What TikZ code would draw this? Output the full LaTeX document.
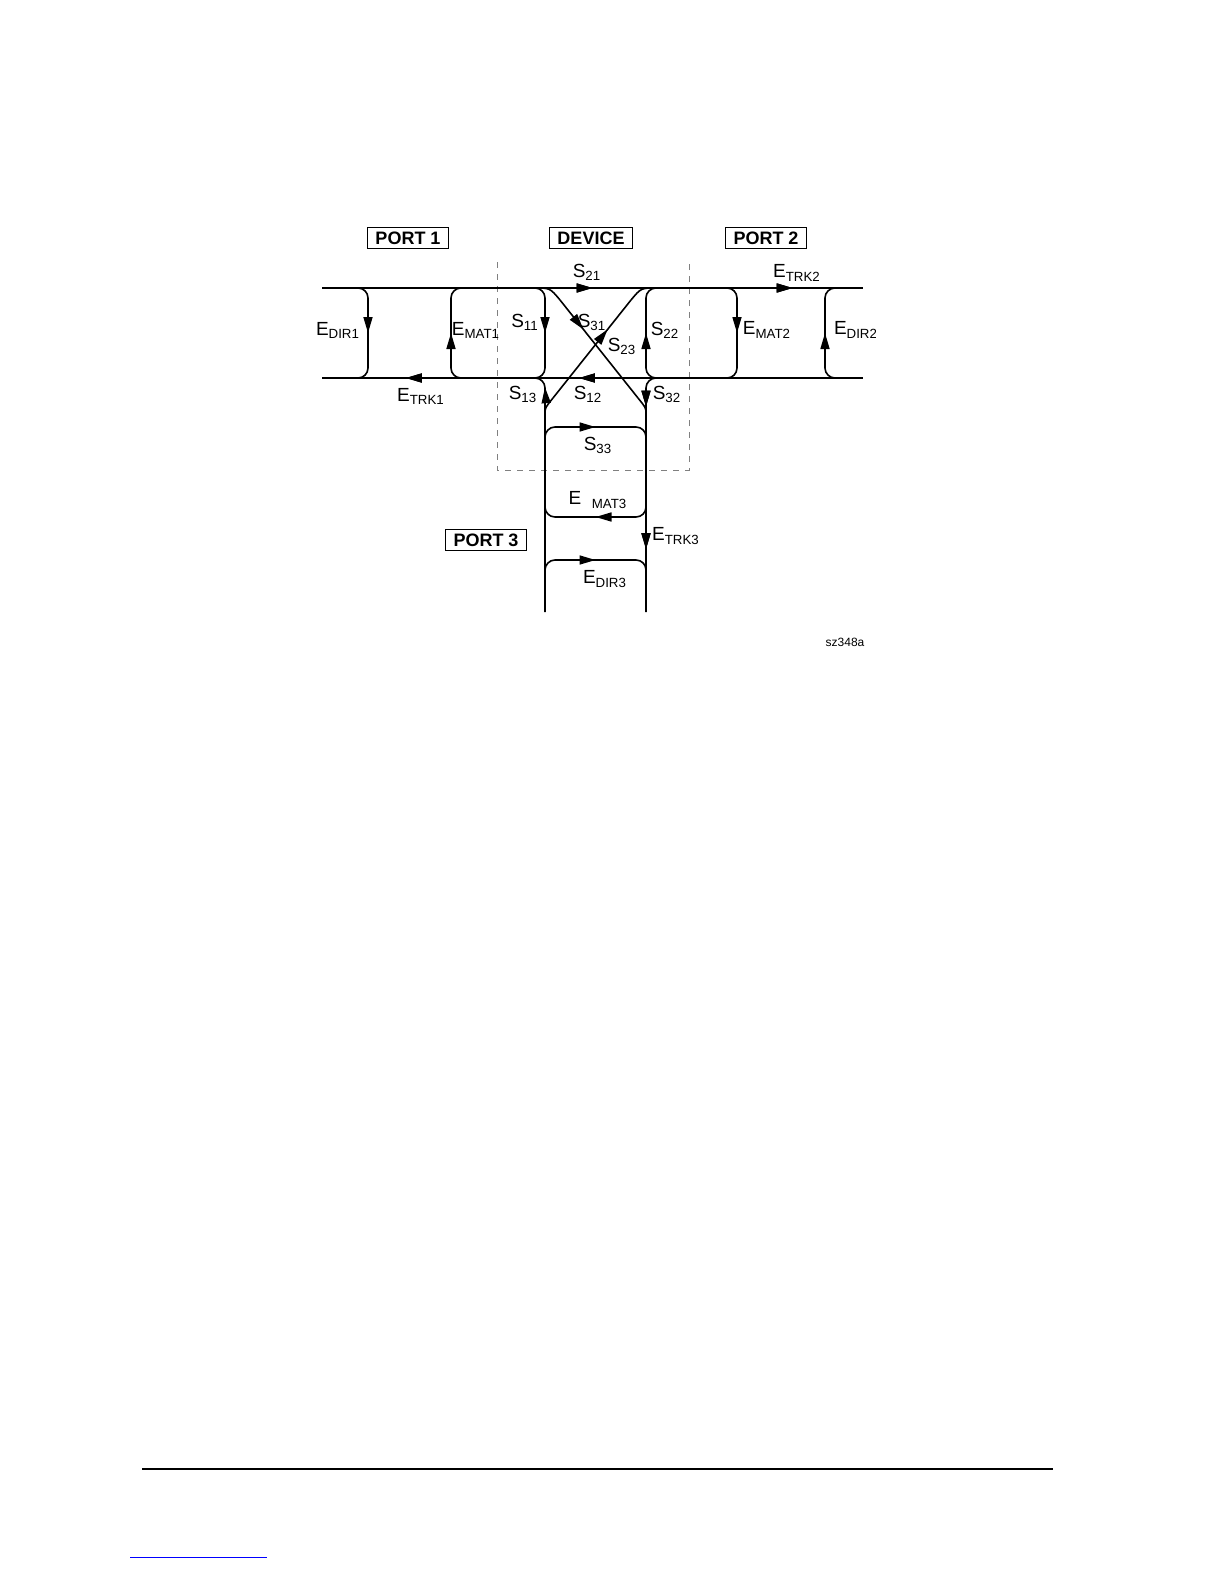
\documentclass[tikz,border=0pt]{standalone}
\usepackage{fontspec}
\setmainfont{Liberation Sans}
\usetikzlibrary{arrows.meta,decorations.markings}
\tikzset{tipa/.tip={Triangle[length=8pt,width=4.5pt]}}
\tikzstyle{midtip}=[postaction={decorate},decoration={markings,mark=at position #1 with {\arrow{tipa}}}]
\tikzstyle{backtip}=[postaction={decorate},decoration={markings,mark=at position #1 with {\arrowreversed{tipa}}}]
\tikzstyle{portbox}=[draw,thick,font=\bfseries\fontsize{9}{10}\selectfont,inner xsep=4pt,inner ysep=2pt]
\tikzstyle{lbl}=[font=\fontsize{9.5}{10}\selectfont,inner sep=0]
\tikzstyle{sig}=[thick,rounded corners=5pt]
\begin{document}
\begin{tikzpicture}[x=0.5pt,y=-0.5pt]
\useasboundingbox (0,0) rectangle (1224,1584);

% port and device boxes
\node[portbox] (port1) at (408,238) {PORT 1};
\node[portbox] (device) at (591,238) {DEVICE};
\node[portbox] (port2) at (766,238) {PORT 2};
\node[portbox] (port3) at (486,540) {PORT 3};
\draw[gray,dashed] (497,262) -- (497,470) -- (689,470) -- (689,262);

% main lines
\draw[thick,midtip=0.5,midtip=0.87] (322,288) -- (863,288);
\draw[thick,backtip=0.155,backtip=0.475] (322,378) -- (863,378);

% vertical loops
\foreach \x/\s/\ya/\yb in {368/-12/288/378, 451/12/378/288, 545/-12/288/378,
                           646/12/378/288, 737/-12/288/378, 825/12/378/288}
  \draw[sig,midtip=0.5] ({\x+\s},\ya) -- (\x,\ya) -- (\x,\yb) -- ({\x+\s},\yb);

% port 3 lines
\draw[sig,midtip=0.93] (545,612) -- (545,378) -- (533,378);
\draw[sig,midtip=0.15,midtip=0.74] (658,378) -- (646,378) -- (646,612);

% crossing paths
\draw[thick] (535,288) .. controls (550,288) .. (560,300);
\draw[thick,midtip=0.3] (560,300) -- (638,398);
\draw[thick] (638,398) .. controls (646,408) .. (646,414);
\draw[thick] (656,288) .. controls (641,288) .. (631,300);
\draw[thick,backtip=0.3] (631,300) -- (553,398);
\draw[thick] (553,398) .. controls (545,408) .. (545,414);

% port 3 loops
\draw[sig,midtip=0.5] (545,440) -- (545,427) -- (646,427) -- (646,440);
\draw[sig,midtip=0.5] (646,505) -- (646,517) -- (545,517) -- (545,505);
\draw[sig,midtip=0.5] (545,573) -- (545,560) -- (646,560) -- (646,573);

% labels
\node[lbl] (edir1) at (338,330) {E\textsubscript{DIR1}};
\node[lbl] (emat1) at (476,330) {E\textsubscript{MAT1}};
\node[lbl] (s11) at (525,322) {S\textsubscript{11}};
\node[lbl] (s31) at (592,322) {S\textsubscript{31}};
\node[lbl] (s23) at (622,346) {S\textsubscript{23}};
\node[lbl] (s22) at (665,330) {S\textsubscript{22}};
\node[lbl] (emat2) at (767,330) {E\textsubscript{MAT2}};
\begin{scope}
\clip (820,300) rectangle (875,360);
\node[lbl] (edir2) at (856,330) {E\textsubscript{DIR2}};
\end{scope}
\node[lbl] (s21) at (587,272) {S\textsubscript{21}};
\node[lbl] (etrk2) at (797,273) {E\textsubscript{TRK2}};
\node[lbl] (etrk1) at (421,396) {E\textsubscript{TRK1}};
\node[lbl] (s13) at (523,394) {S\textsubscript{13}};
\node[lbl] (s12) at (588,394) {S\textsubscript{12}};
\node[lbl] (s32) at (667,394) {S\textsubscript{32}};
\node[lbl] (s33) at (598,445) {S\textsubscript{33}};
\node[lbl] (emat3) at (598,500) {E\ \ \textsubscript{MAT3}};
\node[lbl] (etrk3) at (676,536) {E\textsubscript{TRK3}};
\node[lbl] (edir3) at (605,579) {E\textsubscript{DIR3}};
\node[font=\fontsize{6}{7}\selectfont,inner sep=0] (code) at (845,642) {sz348a};

% page rules
\draw[thick] (142,1469) -- (1053,1469);
\draw[blue] (130,1557) -- (267,1557);
\end{tikzpicture}
\end{document}
